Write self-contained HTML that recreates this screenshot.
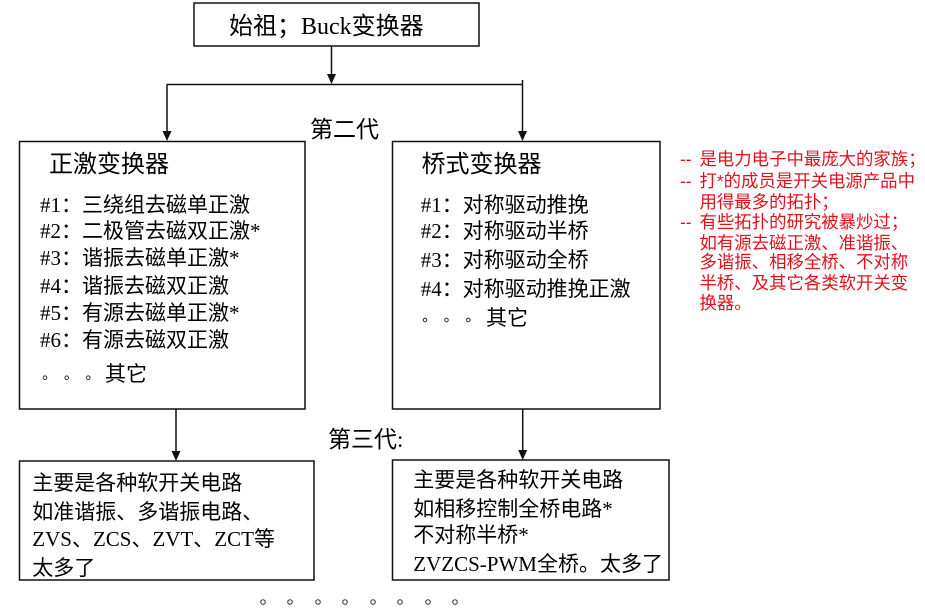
<!DOCTYPE html>
<html><head><meta charset="utf-8">
<style>
html,body{margin:0;padding:0;background:#fff;}
body{width:925px;height:613px;position:relative;overflow:hidden;}
.t{position:absolute;white-space:nowrap;font-family:"Liberation Serif","Noto Sans CJK SC",sans-serif;color:#000;line-height:30px;margin-top:1.5px;}
.f21{font-size:21px;}
.f24{font-size:24px;}
.f23{font-size:23px;}
.r{position:absolute;white-space:nowrap;font-family:"Liberation Sans","Noto Sans CJK SC",sans-serif;color:#e3101c;font-size:17.4px;line-height:20px;margin-top:1px;}
.r .d{display:inline-block;width:19.5px;}
svg{position:absolute;left:0;top:0;}
</style></head><body>
<svg width="925" height="613" viewBox="0 0 925 613">
<g fill="none" stroke="#111" stroke-width="1.5">
<rect x="194" y="3" width="285" height="43"/>
<rect x="19.5" y="141.5" width="285.5" height="267.5"/>
<rect x="392.5" y="141.5" width="267.5" height="267.5"/>
<rect x="19.5" y="461" width="294.5" height="119"/>
<rect x="392.5" y="460" width="276.5" height="120"/>
<line x1="331.5" y1="46" x2="331.5" y2="78"/>
<line x1="166.7" y1="84.5" x2="522.5" y2="84.5"/>
<line x1="167" y1="84.5" x2="167" y2="133"/>
<line x1="522.5" y1="80" x2="522.5" y2="133"/>
<line x1="176" y1="409" x2="176" y2="453"/>
<line x1="522.7" y1="409" x2="522.7" y2="452"/>
</g>
<g fill="#111">
<polygon points="327,74 336,74 331.5,84"/>
<polygon points="162.5,131 171.5,131 167,141"/>
<polygon points="518,131 527,131 522.5,141"/>
<polygon points="171.5,451 180.5,451 176,461"/>
<polygon points="518.2,450 527.2,450 522.7,460"/>
</g>
<g fill="none" stroke="#333" stroke-width="1">
<circle cx="45" cy="377.7" r="1.8"/>
<circle cx="66.7" cy="377.7" r="1.8"/>
<circle cx="88.3" cy="377.7" r="1.8"/>
<circle cx="425" cy="320" r="1.8"/>
<circle cx="446.5" cy="320" r="1.8"/>
<circle cx="468.3" cy="320" r="1.8"/>
<circle cx="263" cy="602" r="2.3"/>
<circle cx="290" cy="602" r="2.3"/>
<circle cx="318" cy="602" r="2.3"/>
<circle cx="345" cy="602" r="2.3"/>
<circle cx="373" cy="602" r="2.3"/>
<circle cx="400" cy="602" r="2.3"/>
<circle cx="428" cy="602" r="2.3"/>
<circle cx="455" cy="602" r="2.3"/>
</g>
</svg>

<div class="t f24" style="left:229px;top:10px;">始祖；Buck变换器</div>
<div class="t f23" style="left:310px;top:113px;">第二代</div>

<div class="t f24" style="left:49px;top:148px;">正激变换器</div>
<div class="t f21" style="left:40px;top:188px;">#1：三绕组去磁单正激</div>
<div class="t f21" style="left:40px;top:214px;">#2：二极管去磁双正激*</div>
<div class="t f21" style="left:40px;top:241.5px;">#3：谐振去磁单正激*</div>
<div class="t f21" style="left:40px;top:269px;">#4：谐振去磁双正激</div>
<div class="t f21" style="left:40px;top:296px;">#5：有源去磁单正激*</div>
<div class="t f21" style="left:40px;top:323px;">#6：有源去磁双正激</div>
<div class="t f21" style="left:105px;top:357px;">其它</div>

<div class="t f24" style="left:421.5px;top:148px;">桥式变换器</div>
<div class="t f21" style="left:420.7px;top:188px;">#1：对称驱动推挽</div>
<div class="t f21" style="left:420.7px;top:214.5px;">#2：对称驱动半桥</div>
<div class="t f21" style="left:420.7px;top:243.5px;">#3：对称驱动全桥</div>
<div class="t f21" style="left:420.7px;top:272px;">#4：对称驱动推挽正激</div>
<div class="t f21" style="left:486px;top:301.5px;">其它</div>

<div class="t f23" style="left:328px;top:423px;">第三代:</div>

<div class="t f21" style="left:32.3px;top:466px;">主要是各种软开关电路</div>
<div class="t f21" style="left:32.3px;top:495px;">如准谐振、多谐振电路、</div>
<div class="t f21" style="left:32.3px;top:522.5px;">ZVS、ZCS、ZVT、ZCT等</div>
<div class="t f21" style="left:32.3px;top:551px;">太多了</div>

<div class="t f21" style="left:413.3px;top:463.5px;">主要是各种软开关电路</div>
<div class="t f21" style="left:413.3px;top:492px;">如相移控制全桥电路*</div>
<div class="t f21" style="left:413.3px;top:518.5px;">不对称半桥*</div>
<div class="t f21" style="left:413.3px;top:547px;">ZVZCS-PWM全桥。太多了</div>

<div class="r" style="left:680px;top:148.3px;"><span class="d">--</span>是电力电子中最庞大的家族；</div>
<div class="r" style="left:680px;top:170px;"><span class="d">--</span>打*的成员是开关电源产品中</div>
<div class="r" style="left:699.5px;top:190.7px;">用得最多的拓扑；</div>
<div class="r" style="left:680px;top:210.7px;"><span class="d">--</span>有些拓扑的研究被暴炒过；</div>
<div class="r" style="left:699.5px;top:231.7px;">如有源去磁正激、准谐振、</div>
<div class="r" style="left:699.5px;top:251px;">多谐振、相移全桥、不对称</div>
<div class="r" style="left:699.5px;top:271.7px;">半桥、及其它各类软开关变</div>
<div class="r" style="left:699.5px;top:291.7px;">换器。</div>
</body></html>
